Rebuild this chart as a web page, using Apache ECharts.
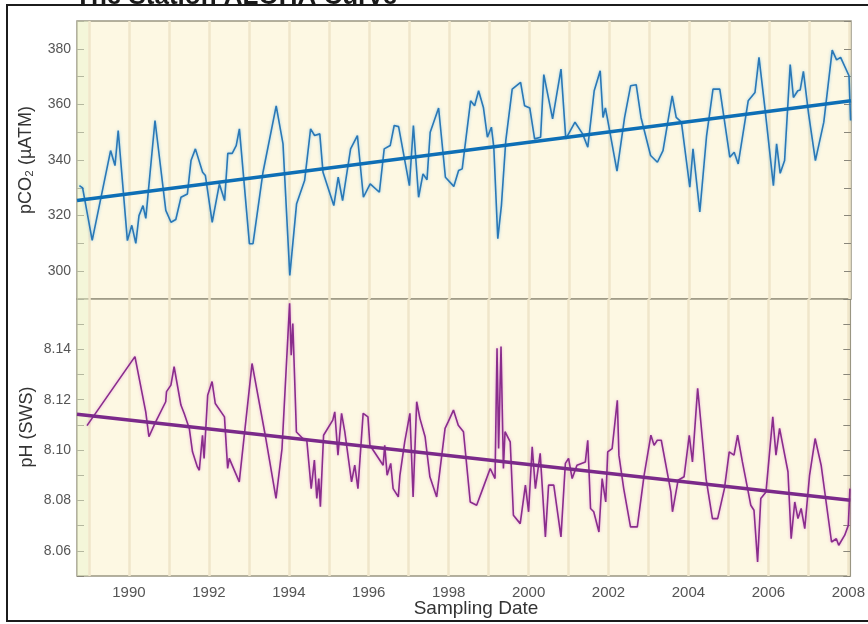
<!DOCTYPE html>
<html>
<head>
<meta charset="utf-8">
<script src="https://cdn.jsdelivr.net/npm/echarts@6/dist/echarts.min.js"></script>
<style>
html, body { margin: 0; padding: 0; background: #ffffff; }
#chart { width: 868px; height: 624px; }
</style>
</head>
<body>
<div id="chart"></div>
<script>
// Station ALOHA surface seawater record: pCO2 (uatm) and pH (seawater scale)
const pco2Dates = [
  1988.76, 1988.84, 1989.08, 1989.54, 1989.65, 1989.73, 1989.96, 1990.07, 1990.17, 1990.25,
  1990.35, 1990.42, 1990.65, 1990.92, 1991.05, 1991.17, 1991.30, 1991.46, 1991.55, 1991.66,
  1991.84, 1991.91, 1992.08, 1992.26, 1992.39, 1992.47, 1992.58, 1992.68, 1992.76, 1993.01,
  1993.10, 1993.35, 1993.68, 1993.85, 1994.02, 1994.19, 1994.39, 1994.54, 1994.64, 1994.77,
  1994.85, 1995.12, 1995.23, 1995.34, 1995.54, 1995.71, 1995.86, 1996.03, 1996.26, 1996.38,
  1996.53, 1996.63, 1996.74, 1997.01, 1997.11, 1997.24, 1997.35, 1997.45, 1997.53, 1997.74,
  1997.91, 1998.12, 1998.24, 1998.33, 1998.54, 1998.64, 1998.74, 1998.86, 1998.96, 1999.06,
  1999.12, 1999.22, 1999.31, 1999.42, 1999.58, 1999.79, 1999.89, 2000.02, 2000.14, 2000.29,
  2000.37, 2000.59, 2000.80, 2000.92, 2001.15, 2001.34, 2001.47, 2001.63, 2001.78, 2001.85,
  2001.91, 2001.97, 2002.20, 2002.39, 2002.54, 2002.68, 2002.80, 2003.04, 2003.21, 2003.35,
  2003.58, 2003.68, 2003.81, 2004.02, 2004.10, 2004.27, 2004.44, 2004.60, 2004.77, 2005.02,
  2005.13, 2005.23, 2005.48, 2005.65, 2005.75, 2005.90, 2006.11, 2006.19, 2006.28, 2006.39,
  2006.53, 2006.61, 2006.72, 2006.78, 2006.86, 2006.99, 2007.16, 2007.37, 2007.58, 2007.69,
  2007.79, 2008.00, 2008.04
];
const pco2Values = [
  330.8, 330.0, 311.1, 343.4, 338.0, 350.6, 311.0, 316.5, 310.0, 320.0,
  323.6, 319.0, 354.2, 321.9, 317.6, 318.6, 326.6, 327.8, 339.8, 344.0,
  335.6, 334.4, 317.6, 331.4, 325.4, 342.4, 342.4, 345.2, 351.2, 309.9,
  309.9, 335.6, 359.5, 345.8, 298.5, 324.3, 332.6, 351.2, 348.8, 349.4,
  335.6, 323.6, 333.8, 325.4, 344.0, 348.8, 326.6, 331.4, 328.4, 344.0,
  345.2, 352.4, 352.0, 330.8, 352.4, 326.6, 335.0, 332.9, 350.0, 358.7,
  333.8, 330.5, 336.2, 336.8, 361.3, 359.5, 364.9, 358.9, 348.2, 351.8,
  344.6, 311.7, 323.6, 347.0, 365.5, 367.9, 359.5, 358.7, 347.6, 348.2,
  370.7, 354.8, 372.7, 347.6, 353.6, 349.4, 344.6, 364.9, 372.1, 355.3,
  358.7, 354.2, 336.0, 355.3, 366.7, 367.1, 355.3, 341.6, 339.2, 343.4,
  363.1, 355.3, 353.6, 330.2, 344.0, 321.3, 348.8, 365.5, 365.5, 341.0,
  342.8, 338.6, 361.3, 364.3, 376.9, 358.4, 330.8, 345.8, 335.2, 339.8,
  374.3, 362.5, 364.9, 365.2, 371.9, 356.6, 339.8, 353.6, 379.5, 376.0,
  376.9, 370.3, 354.2
];

const phDates = [
  1988.95, 1990.15, 1990.42, 1990.50, 1990.65, 1990.92, 1990.94, 1991.05, 1991.13, 1991.30,
  1991.38, 1991.51, 1991.59, 1991.71, 1991.76, 1991.84, 1991.88, 1991.97, 1992.08, 1992.16,
  1992.39, 1992.47, 1992.51, 1992.76, 1993.08, 1993.41, 1993.68, 1993.83, 1994.02, 1994.06,
  1994.10, 1994.19, 1994.35, 1994.45, 1994.56, 1994.64, 1994.70, 1994.75, 1994.79, 1994.87,
  1995.10, 1995.15, 1995.23, 1995.32, 1995.40, 1995.57, 1995.65, 1995.73, 1995.86, 1995.98,
  1996.03, 1996.36, 1996.40, 1996.46, 1996.55, 1996.61, 1996.74, 1996.78, 1996.90, 1997.03,
  1997.11, 1997.20, 1997.28, 1997.41, 1997.53, 1997.70, 1997.91, 1997.99, 1998.12, 1998.24,
  1998.37, 1998.54, 1998.70, 1998.87, 1999.04, 1999.16, 1999.21, 1999.25, 1999.31, 1999.37,
  1999.41, 1999.54, 1999.62, 1999.79, 1999.92, 2000.00, 2000.09, 2000.17, 2000.29, 2000.42,
  2000.50, 2000.63, 2000.81, 2000.92, 2001.00, 2001.09, 2001.21, 2001.42, 2001.48, 2001.55,
  2001.63, 2001.76, 2001.84, 2001.93, 2001.98, 2002.09, 2002.22, 2002.26, 2002.38, 2002.55,
  2002.72, 2002.89, 2003.06, 2003.14, 2003.22, 2003.32, 2003.56, 2003.60, 2003.74, 2003.89,
  2004.02, 2004.10, 2004.23, 2004.27, 2004.44, 2004.60, 2004.73, 2004.90, 2005.02, 2005.14,
  2005.23, 2005.35, 2005.48, 2005.56, 2005.64, 2005.73, 2005.81, 2005.94, 2006.11, 2006.19,
  2006.28, 2006.49, 2006.57, 2006.66, 2006.74, 2006.82, 2006.91, 2007.03, 2007.17, 2007.32,
  2007.58, 2007.70, 2007.76, 2007.91, 2008.00, 2008.04
];
const phValues = [
  8.1097, 8.1371, 8.1152, 8.1053, 8.1106, 8.1192, 8.1232, 8.1258, 8.1331, 8.1179,
  8.1146, 8.1086, 8.0993, 8.0934, 8.0920, 8.1059, 8.0967, 8.1218, 8.1272, 8.1185,
  8.1132, 8.0927, 8.0967, 8.0874, 8.1344, 8.1059, 8.0808, 8.1006, 8.1583, 8.1377,
  8.1503, 8.1072, 8.1046, 8.1039, 8.0847, 8.0960, 8.0808, 8.0887, 8.0775, 8.1059,
  8.1119, 8.1152, 8.0980, 8.1146, 8.1073, 8.0874, 8.0940, 8.0847, 8.1146, 8.1132,
  8.1019, 8.0940, 8.1019, 8.0900, 8.0947, 8.0847, 8.0814, 8.0900, 8.1033, 8.1146,
  8.0814, 8.1192, 8.1126, 8.1053, 8.0894, 8.0814, 8.1086, 8.1113, 8.1159, 8.1099,
  8.1073, 8.0794, 8.0781, 8.0854, 8.0927, 8.0887, 8.1404, 8.1006, 8.1411, 8.0927,
  8.1073, 8.1033, 8.0741, 8.0708, 8.0861, 8.0755, 8.1013, 8.0847, 8.0987, 8.0655,
  8.0861, 8.0861, 8.0655, 8.0947, 8.0967, 8.0887, 8.0940, 8.0953, 8.1039, 8.0768,
  8.0755, 8.0675, 8.0887, 8.0794, 8.0993, 8.1006, 8.1198, 8.0980, 8.0847, 8.0695,
  8.0695, 8.0900, 8.1059, 8.1019, 8.1039, 8.1039, 8.0834, 8.0755, 8.0880, 8.0894,
  8.1059, 8.0953, 8.1245, 8.1179, 8.0887, 8.0728, 8.0728, 8.0847, 8.0993, 8.0980,
  8.1059, 8.0953, 8.0847, 8.0781, 8.0761, 8.0556, 8.0808, 8.0834, 8.1132, 8.0980,
  8.1086, 8.0914, 8.0648, 8.0794, 8.0728, 8.0768, 8.0688, 8.0900, 8.1046, 8.0940,
  8.0635, 8.0648, 8.0622, 8.0662, 8.0701, 8.0847
];

// Linear trends over the full record
const trendDates = [1988.7, 2008.05];
const pco2TrendValues = [325.4, 361.3];
const phTrendValues = [8.1142, 8.0801];

// Axis ticks and labels
const yearTicks = [1989, 1990, 1991, 1992, 1993, 1994, 1995, 1996, 1997, 1998,
                   1999, 2000, 2001, 2002, 2003, 2004, 2005, 2006, 2007, 2008];
const yearLabels = [1990, 1992, 1994, 1996, 1998, 2000, 2002, 2004, 2006, 2008];
const pco2Labels = [300, 320, 340, 360, 380];
const phLabels = [8.06, 8.08, 8.10, 8.12, 8.14];

const pair = (xs, ys) => xs.map((x, i) => [x, ys[i]]);

const FONT = '"Liberation Sans", Arial, Helvetica, sans-serif';
const PLOT_BG = '#fdf8e3';
const GRID_LINE = '#efe6ca';
const TICK = '#8a877a';

const xMin = 1988.7, xMax = 2008.05;

function xAxisFor(gridIndex, showLabels) {
  return {
    type: 'value', gridIndex, min: xMin, max: xMax,
    axisLine: { show: false },
    axisTick: { show: false, customValues: yearTicks },
    splitLine: { show: true, lineStyle: { color: GRID_LINE, width: 2.5 } },
    axisLabel: showLabels ? {
      show: true, customValues: yearLabels, margin: 9,
      color: '#555', fontFamily: FONT, fontSize: 15,
      formatter: v => String(Math.round(v))
    } : { show: false }
  };
}

function yAxisFor(gridIndex, position, min, max, interval, labels, fmt) {
  return {
    type: 'value', gridIndex, position, min, max, interval,
    axisLine: { show: false },
    axisTick: { show: true, inside: true, length: 7, lineStyle: { color: TICK, width: 1 } },
    splitLine: { show: false },
    axisLabel: labels ? {
      show: true, customValues: labels, margin: 6,
      color: '#555', fontFamily: FONT, fontSize: 14, formatter: fmt
    } : { show: false }
  };
}

const leftStrip = {
  silent: true,
  itemStyle: { color: 'rgba(232,243,205,0.45)' },
  data: [[{ xAxis: xMin }, { xAxis: 1988.98 }]]
};

const chart = echarts.init(document.getElementById('chart'), null, { renderer: 'canvas' });

chart.setOption({
  animation: false,
  backgroundColor: '#ffffff',
  grid: [
    { left: 77, top: 21, width: 774, height: 278, show: true,
      backgroundColor: PLOT_BG, borderColor: '#9a9682', borderWidth: 1.5 },
    { left: 77, top: 299, width: 774, height: 277, show: true,
      backgroundColor: PLOT_BG, borderColor: '#9a9682', borderWidth: 1.5 }
  ],
  xAxis: [xAxisFor(0, false), xAxisFor(1, true)],
  yAxis: [
    yAxisFor(0, 'left', 290, 390, 10, pco2Labels, v => String(Math.round(v))),
    yAxisFor(0, 'right', 290, 390, 10, null),
    yAxisFor(1, 'left', 8.05, 8.16, 0.01, phLabels, v => Number(v).toFixed(2)),
    yAxisFor(1, 'right', 8.05, 8.16, 0.01, null)
  ],
  series: [
    {
      name: 'pCO2', type: 'line', xAxisIndex: 0, yAxisIndex: 0,
      data: pair(pco2Dates, pco2Values), symbol: 'none', z: 3,
      lineStyle: { color: '#2a78b6', width: 1.6,
        shadowColor: 'rgba(70,170,235,0.55)', shadowBlur: 3 },
      markArea: leftStrip
    },
    {
      name: 'pCO2 trend', type: 'line', xAxisIndex: 0, yAxisIndex: 0,
      data: pair(trendDates, pco2TrendValues), symbol: 'none', z: 4,
      lineStyle: { color: '#0e6fb6', width: 3.5 }
    },
    {
      name: 'pH', type: 'line', xAxisIndex: 1, yAxisIndex: 2,
      data: pair(phDates, phValues), symbol: 'none', z: 3,
      lineStyle: { color: '#8a2d8c', width: 1.6,
        shadowColor: 'rgba(215,90,215,0.5)', shadowBlur: 3 },
      markArea: leftStrip
    },
    {
      name: 'pH trend', type: 'line', xAxisIndex: 1, yAxisIndex: 2,
      data: pair(trendDates, phTrendValues), symbol: 'none', z: 4,
      lineStyle: { color: '#7b2a8a', width: 3.5 }
    }
  ],
  graphic: [
    { type: 'rect', z: 0, silent: true,
      shape: { x: 7, y: 5, width: 900, height: 616 },
      style: { fill: 'none', stroke: '#1c1c1c', lineWidth: 2 } },
    { type: 'text', z: 10, silent: true, x: 75, y: 10,
      style: { text: 'The Station ALOHA Curve', font: 'bold 26px ' + FONT, fill: '#1a1a1a',
               textAlign: 'left', textVerticalAlign: 'bottom', align: 'left', verticalAlign: 'bottom' } },
    { type: 'text', z: 10, silent: true, x: 26, y: 160, rotation: Math.PI / 2,
      style: { text: 'pCO\u2082 (\u00b5ATM)', font: '18px ' + FONT, fill: '#333',
               textAlign: 'center', textVerticalAlign: 'middle', align: 'center', verticalAlign: 'middle' } },
    { type: 'text', z: 10, silent: true, x: 27, y: 427, rotation: Math.PI / 2,
      style: { text: 'pH (SWS)', font: '18px ' + FONT, fill: '#333',
               textAlign: 'center', textVerticalAlign: 'middle', align: 'center', verticalAlign: 'middle' } },
    { type: 'text', z: 10, silent: true, x: 476, y: 609,
      style: { text: 'Sampling Date', font: '19px ' + FONT, fill: '#333',
               textAlign: 'center', textVerticalAlign: 'middle', align: 'center', verticalAlign: 'middle' } }
  ]
});
</script>
</body>
</html>
